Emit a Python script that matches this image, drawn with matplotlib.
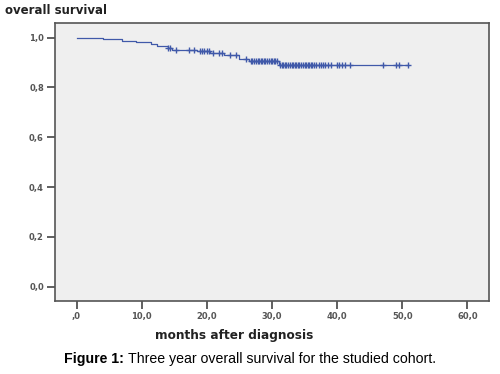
import numpy as np
import matplotlib.pyplot as plt

# event times (months) and survival after each step
event_t = [0, 2.5, 4.0, 7.0, 9.2, 11.5, 12.4, 14.0, 14.6, 18.5, 20.5, 22.7, 25.0, 26.5, 31.0]
event_s = [1.0, 0.997, 0.994, 0.988, 0.981, 0.975, 0.968, 0.960, 0.952, 0.945, 0.940, 0.930, 0.915, 0.908, 0.890]

# censored patients (months)
censor_t = [14.0, 14.3, 15.2, 17.2, 18.0, 18.9, 19.3, 19.6, 20.0, 20.3, 21.0, 21.8, 22.3,
            23.5, 24.5, 26.0, 26.8, 27.0, 27.3, 27.5, 27.8, 28.0, 28.3, 28.5, 28.8,
            29.0, 29.3, 29.5, 29.8, 30.0, 30.3, 30.5, 30.8,
            31.2, 31.5, 31.7, 32.0, 32.2, 32.5, 32.7, 33.0, 33.2, 33.5, 33.7, 34.0,
            34.2, 34.5, 34.7, 35.0, 35.2, 35.5, 35.7, 36.0, 36.2, 36.5, 36.8, 37.2,
            37.5, 37.8, 38.2, 38.6, 39.0, 40.0, 40.3, 40.8, 41.2, 42.0,
            47.1, 49.0, 49.5, 50.8]
end_t = 50.8

xticks = [0, 10, 20, 30, 40, 50, 60]
xlabels = [",0", "10,0", "20,0", "30,0", "40,0", "50,0", "60,0"]
yticks = [0, 0.2, 0.4, 0.6, 0.8, 1.0]
ylabels = ["0,0", "0,2", "0,4", "0,6", "0,8", "1,0"]

col = "#4059a9"
gray = "#444444"

fig = plt.figure(figsize=(5, 3.74), dpi=100)
ax = fig.add_axes([0.11, 0.196, 0.868, 0.742])
ax.set_facecolor("#efefef")

t = event_t + [end_t]
s = event_s + [event_s[-1]]
ax.step(t, s, where="post", color=col, lw=0.9)

idx = np.searchsorted(event_t, censor_t, side="right") - 1
cs = np.array(event_s)[idx]
ax.plot(censor_t, cs, "+", color=col, ms=5, mew=1.0)

ax.set_xlim(-3.3, 63.3)
ax.set_ylim(-0.056, 1.058)
ax.set_xticks(xticks)
ax.set_xticklabels(xlabels)
ax.set_yticks(yticks)
ax.set_yticklabels(ylabels)
ax.tick_params(length=6, width=1.2, color=gray, labelsize=6, labelcolor="#555555", pad=2)
for lab in ax.get_xticklabels() + ax.get_yticklabels():
    lab.set_fontweight("bold")
for sp in ax.spines.values():
    sp.set_color("#555555")
    sp.set_linewidth(1.2)

fig.text(0.01, 0.972, "overall survival", fontsize=8.5, fontweight="bold", color="#222222",
         va="center", ha="left")
fig.text(0.468, 0.104, "months after diagnosis", fontsize=8.7, fontweight="bold", color="#222222",
         va="center", ha="center")

# caption: bold label followed by plain text
cap1 = fig.text(0.128, 0.04, "Figure 1:", fontsize=10.2, fontweight="bold", family="Liberation Sans",
                va="center", ha="left")
fig.canvas.draw()
bb = cap1.get_window_extent().transformed(fig.transFigure.inverted())
fig.text(bb.x1 + 0.008, 0.04, "Three year overall survival for the studied cohort.", fontsize=10.2,
         family="Liberation Sans", va="center", ha="left")

fig.savefig("out.png", dpi=100)
